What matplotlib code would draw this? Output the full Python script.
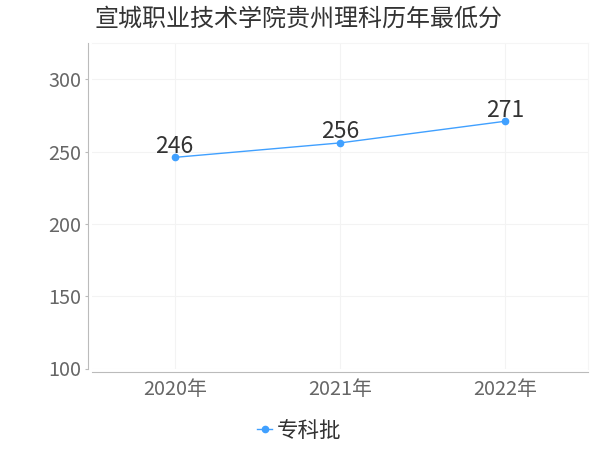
import matplotlib
matplotlib.use("Agg")
import matplotlib.pyplot as plt

plt.rcParams['font.family'] = ['Noto Sans CJK SC', 'DejaVu Sans']

title = "宣城职业技术学院贵州理科历年最低分"
categories = ["2020年", "2021年", "2022年"]
values = [246, 256, 271]
series_name = "专科批"
yticks = [100, 150, 200, 250, 300]

color = "#40a0ff"
fig = plt.figure(figsize=(6, 4.5), dpi=100)
ax = fig.add_axes([92/600, 1-368.5/450, (588-92)/600, (368.5-43)/450])
x = list(range(len(categories)))
ax.plot(x, values, color=color, lw=1, marker='o', ms=4.5, label=series_name, zorder=3)
for xi, v in zip(x, values):
    ax.annotate(str(v), (xi, v), xytext=(0, 3.3), textcoords='offset points',
                ha='center', va='baseline', fontsize=16.5, color='#333333')

ax.set_xlim(-0.5, 2.5)
ax.set_ylim(100, 325.1)
ax.set_xticks(x)
ax.set_xticklabels(categories)
ax.set_yticks(yticks)
ax.tick_params(axis='y', labelsize=14.3, labelcolor='#666666', color='#bbbbbb',
               length=2, width=0.8, pad=3)
ax.tick_params(axis='x', labelsize=14.3, labelcolor='#666666', length=0, pad=5)
ax.grid(True, color='#f3f3f3', lw=0.8)
ax.set_axisbelow(True)
for s in ['top', 'right']:
    ax.spines[s].set_color('#f5f5f5')
    ax.spines[s].set_linewidth(0.8)
ax.spines['left'].set_position(('outward', 2.8))
ax.spines['bottom'].set_position(('outward', 2.8))
ax.spines['left'].set_color('#bbbbbb')
ax.spines['bottom'].set_color('#bbbbbb')

fig.text(95/600, 1-19/450, title, ha='left', va='center', fontsize=17.3, color='#333333')
leg = fig.legend(loc='center', bbox_to_anchor=(299.5/600, 1-431/450), frameon=False,
                 fontsize=15.5, handlelength=0.7, handletextpad=0.23, labelcolor='#333333',
                 borderaxespad=0, borderpad=0)
fig.savefig("out.png", dpi=100)
